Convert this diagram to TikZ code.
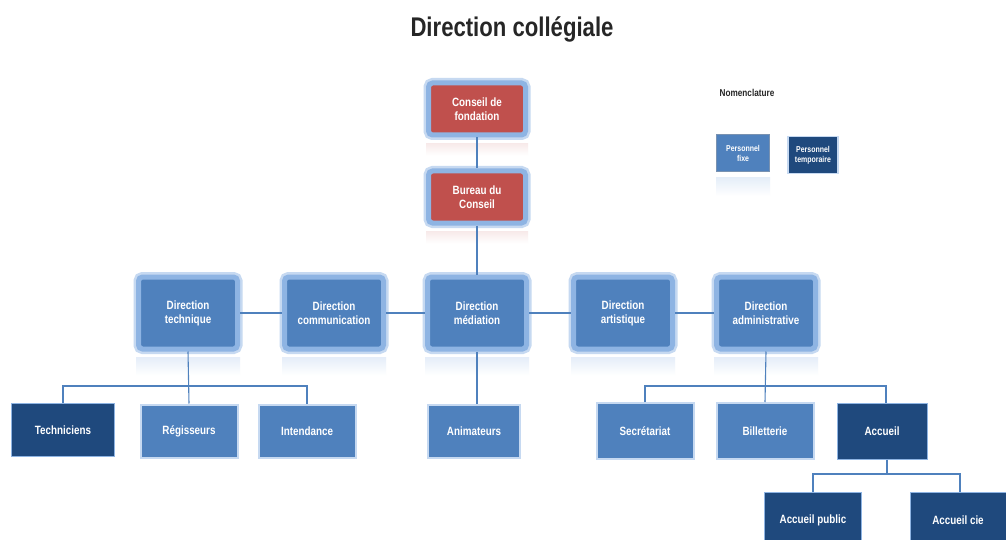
\documentclass[tikz,border=0pt]{standalone}
\usepackage{fontspec}
\setmainfont{Liberation Sans}[FakeStretch=0.82]
\usetikzlibrary{positioning}

\definecolor{medblue}{RGB}{79,129,189}
\definecolor{darkblue}{RGB}{31,73,125}
\definecolor{boardred}{RGB}{192,80,77}
\definecolor{glowin}{RGB}{142,180,227}
\definecolor{glowout}{RGB}{198,217,241}
\definecolor{linkblue}{RGB}{79,129,189}

\tikzset{
  glowbox/.style={rectangle, rounded corners=4pt, fill=medblue, draw=glowin, line width=5pt,
    preaction={draw=glowout, line width=10pt}, text=white, align=center,
    font=\bfseries\fontsize{12}{14}\selectfont, minimum width=99pt, minimum height=72pt, inner sep=0pt},
  redbox/.style={glowbox, fill=boardred, minimum width=97pt, minimum height=52pt},
  fixbox/.style={rectangle, fill=medblue, draw=glowout, line width=2pt, text=white, align=center,
    font=\bfseries\fontsize{12}{14}\selectfont, minimum width=97pt, minimum height=53pt, inner sep=0pt},
  tempbox/.style={fixbox, fill=darkblue, draw=glowin, line width=1pt},
  link/.style={draw=linkblue, line width=1.1pt}
}

\begin{document}
\begin{tikzpicture}[x=1pt,y=-1pt]
  \useasboundingbox[fill=white] (0,0) rectangle (1006,540);

  % Title
  \node[font=\bfseries\fontsize{27}{30}\selectfont, text=black!85] (title) at (512,29) {Direction collégiale};

  % Legend
  \node[font=\bfseries\fontsize{10}{12}\selectfont, text=black!85] (nomen) at (747,93) {Nomenclature};
  \node[fixbox, minimum width=53pt, minimum height=37pt, line width=1pt, draw=darkblue!60,
    font=\bfseries\fontsize{8.5}{10}\selectfont] (legfix) at (743,153) {Personnel\\fixe};
  \node[tempbox, minimum width=50pt, minimum height=37pt, draw=glowout, line width=1.5pt,
    font=\bfseries\fontsize{8.5}{10}\selectfont] (legtemp) at (813,155) {Personnel\\temporaire};

  % Board
  \node[redbox] (conseil) at (477,109) {Conseil de\\fondation};
  \node[redbox] (bureau) at (477,197) {Bureau du\\Conseil};

  % Directions
  \node[glowbox] (tech) at (188,313) {Direction\\technique};
  \node[glowbox] (comm) at (334,313) {Direction\\communication};
  \node[glowbox] (med)  at (477,313) {Direction\\médiation};
  \node[glowbox] (art)  at (623,313) {Direction\\artistique};
  \node[glowbox] (adm)  at (766,313) {Direction\\administrative};

  % Staff
  \node[tempbox, minimum width=103pt] (techn) at (63,430) {Techniciens};
  \node[fixbox] (regi) at (189,431) {Régisseurs};
  \node[fixbox] (intd) at (307,431) {Intendance};
  \node[fixbox, minimum width=92pt] (anim) at (474,431) {Animateurs};
  \node[fixbox, minimum height=56pt] (secr) at (645,431) {Secrétariat};
  \node[fixbox, minimum height=56pt] (bill) at (765,431) {Billetterie};
  \node[tempbox, minimum width=90pt, minimum height=56pt] (acc) at (882,431) {Accueil};
  \node[tempbox, minimum width=97pt, minimum height=55pt] (pub) at (813,520) {Accueil public};
  \node[tempbox, minimum width=96pt, minimum height=55pt] (cie) at (958,520) {Accueil cie};

  % Reflections
  \foreach \n in {tech,comm,med,art,adm,legfix}
    \shade[top color=glowout!45, bottom color=white]
      ([yshift=-6pt]\n.south west) rectangle ([yshift=-24pt]\n.south east);
  \foreach \n in {conseil,bureau}
    \shade[top color=boardred!12, bottom color=white]
      ([yshift=-6pt]\n.south west) rectangle ([yshift=-18pt]\n.south east);

  % Links
  \coordinate (techbar) at (189,386);
  \coordinate (admbar) at (765,386);
  \coordinate (accbar) at (887,474);
  \draw[link] (conseil) -- (bureau);
  \draw[link] (bureau) -- (med);
  \draw[link] (tech) -- (comm);
  \draw[link] (comm) -- (med);
  \draw[link] (med) -- (art);
  \draw[link] (art) -- (adm);
  \draw[link] (tech.south) -- (regi.north);
  \draw[link] (techn.north) |- (techbar) -| (intd.north);
  \draw[link] (med.south) -- (med.south |- anim.north);
  \draw[link] (adm.south) -- (bill.north);
  \draw[link] (secr.north) |- (admbar) -| ([xshift=4pt]acc.north);
  \draw[link] ([xshift=5pt]acc.south) -- (accbar);
  \draw[link] (pub.north) |- (accbar) -| ([xshift=2pt]cie.north);
\end{tikzpicture}
\end{document}
